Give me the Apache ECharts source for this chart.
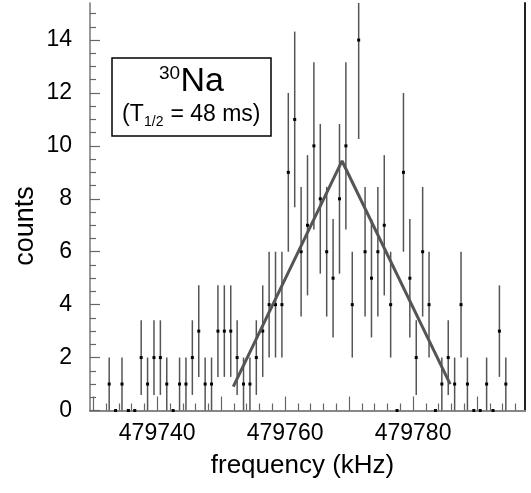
<!DOCTYPE html>
<html>
<head>
<meta charset="utf-8">
<script src="https://cdn.jsdelivr.net/npm/echarts@6/dist/echarts.min.js"></script>
<style>
html,body{margin:0;padding:0;background:#fff}
#main{width:531px;height:493px}
</style>
</head>
<body>
<div id="main"></div>
<script>
// scan points (kHz) and counts per point
var freq = [479732.5, 479733.5, 479734.5, 479735.5, 479736.5, 479737.5, 479738.5, 479739.5,
    479740.5, 479741.5, 479742.5, 479743.5, 479744.5, 479745.5, 479746.5, 479747.5,
    479748.5, 479749.5, 479750.5, 479751.5, 479752.5, 479753.5, 479754.5, 479755.5,
    479756.5, 479757.5, 479758.5, 479759.5, 479760.5, 479761.5, 479762.5, 479763.5,
    479764.5, 479765.5, 479766.5, 479767.5, 479768.5, 479769.5, 479770.5, 479771.5,
    479772.5, 479773.5, 479774.5, 479775.5, 479776.5, 479777.5, 479778.5, 479779.5,
    479780.5, 479781.5, 479782.5, 479783.5, 479784.5, 479785.5, 479786.5, 479787.5,
    479788.5, 479789.5, 479790.5, 479791.5, 479792.5, 479793.5, 479794.5];
var counts = [1, 0, 1, 0, 0, 2, 1, 2,
    2, 1, 0, 1, 1, 2, 3, 1,
    1, 3, 3, 3, 2, 1, 1, 2,
    3, 4, 4, 4, 9, 11, 6, 7,
    10, 8, 6, 5, 8, 10, 4, 14,
    6, 5, 6, 7, 4, 0, 9, 5,
    2, 6, 4, 0, 1, 2, 1, 4,
    1, 0, 0, 1, 0, 3, 1];
// error bar half lengths
var errs = [1, 0, 1, 0, 0, 1.41, 1, 1.41,
    1.41, 1, 0, 1, 1, 1.41, 1.73, 1,
    1, 1.73, 1.73, 1.73, 1.41, 1, 1, 1.41,
    1.73, 2, 2, 2, 3, 3.32, 2.45, 2.65,
    3.16, 2.83, 2.45, 2.24, 2.83, 3.16, 2, 3.74,
    2.45, 2.24, 2.45, 2.65, 2, 0, 3, 2.24,
    1.41, 2.45, 2, 0, 1, 1.41, 1, 2,
    1, 0, 0, 1, 0, 1.73, 1];
// triangular fit
var fitFreq = [479751.9, 479768.9, 479785.8];
var fitCounts = [0.9, 9.43, 1.0];

var xLabelValues = [479740, 479760, 479780];
var xMajorTicks = [479730, 479740, 479750, 479760, 479770, 479780, 479790];
var xMinorTicks = [479732, 479734, 479736, 479738, 479742, 479744, 479746, 479748,
    479752, 479754, 479756, 479758, 479762, 479764, 479766, 479768,
    479772, 479774, 479776, 479778, 479782, 479784, 479786, 479788,
    479792, 479794, 479796];
var yLabelValues = [0, 2, 4, 6, 8, 10, 12, 14];
var yMinorTicks = [0.5, 1, 1.5, 2.5, 3, 3.5, 4.5, 5, 5.5, 6.5, 7, 7.5, 8.5, 9, 9.5,
    10.5, 11, 11.5, 12.5, 13, 13.5, 14.5, 15];

var X_MIN = 479729.5, X_MAX = 479797.5, Y_MAX = 15.4;
var FONT = 'Liberation Sans, Arial, sans-serif';

var chart = echarts.init(document.getElementById('main'));

var points = freq.map(function (f, i) {
    return [f, counts[i], errs[i]];
});
var fit = fitFreq.map(function (f, i) {
    return [f, fitCounts[i]];
});

var option = {
    animation: false,
    grid: {left: 90, right: 6, top: 3, bottom: 82.5},
    xAxis: [{
        type: 'value', position: 'bottom', min: X_MIN, max: X_MAX,
        name: 'frequency (kHz)', nameLocation: 'middle', nameGap: 42,
        nameTextStyle: {fontFamily: FONT, fontSize: 26, color: '#000', padding: [0, 0, 0, -10]},
        axisLine: {lineStyle: {color: '#444', width: 1.5}},
        axisTick: {inside: true, length: 14, customValues: xMajorTicks, lineStyle: {color: '#666', width: 1.2}},
        axisLabel: {
            customValues: xLabelValues, margin: 12, fontFamily: FONT, fontSize: 23, color: '#000',
            formatter: function (v) { return String(v); }
        },
        splitLine: {show: false}
    }, {
        type: 'value', position: 'bottom', min: X_MIN, max: X_MAX,
        axisLine: {show: false},
        axisTick: {inside: true, length: 7, customValues: xMinorTicks, lineStyle: {color: '#666', width: 1.2}},
        axisLabel: {show: false},
        splitLine: {show: false}
    }, {
        type: 'value', position: 'top', min: X_MIN, max: X_MAX,
        axisLine: {lineStyle: {color: '#888', width: 2}},
        axisTick: {show: false}, axisLabel: {show: false}, splitLine: {show: false}
    }],
    yAxis: [{
        type: 'value', position: 'left', min: 0, max: Y_MAX,
        axisLine: {show: true, lineStyle: {color: '#777', width: 1.5}},
        axisTick: {show: true, inside: true, length: 10, customValues: yLabelValues, lineStyle: {color: '#666', width: 1.2}},
        axisLabel: {customValues: yLabelValues, margin: 18, fontFamily: FONT, fontSize: 23, color: '#000'},
        splitLine: {show: false}
    }, {
        type: 'value', position: 'left', min: 0, max: Y_MAX,
        axisLine: {show: false},
        axisTick: {show: true, inside: true, length: 6, customValues: yMinorTicks, lineStyle: {color: '#666', width: 1.2}},
        axisLabel: {show: false},
        splitLine: {show: false}
    }, {
        type: 'value', position: 'right', min: 0, max: Y_MAX,
        axisLine: {show: true, lineStyle: {color: '#222', width: 2}},
        axisTick: {show: false}, axisLabel: {show: false}, splitLine: {show: false}
    }],
    series: [{
        type: 'custom',
        xAxisIndex: 0, yAxisIndex: 0,
        data: points,
        encode: {x: 0, y: 1},
        z: 3,
        renderItem: function (params, api) {
            var x = api.value(0), y = api.value(1), e = api.value(2);
            var p = api.coord([x, y]);
            var kids = [];
            if (e > 0) {
                var top = api.coord([x, Math.min(y + e, Y_MAX)]);
                var bot = api.coord([x, Math.max(y - e, 0)]);
                kids.push({
                    type: 'line',
                    shape: {x1: p[0], y1: top[1], x2: p[0], y2: bot[1]},
                    style: {stroke: '#555', lineWidth: 1.5}
                });
            }
            kids.push({
                type: 'rect',
                shape: {x: p[0] - 1.5, y: p[1] - 1.5, width: 3, height: 3},
                style: {fill: '#000'}
            });
            return {type: 'group', children: kids};
        }
    }, {
        type: 'line',
        xAxisIndex: 0, yAxisIndex: 0,
        data: fit,
        showSymbol: false,
        z: 4,
        lineStyle: {color: '#555', width: 3}
    }],
    graphic: [{
        type: 'text', x: 26, y: 226, rotation: Math.PI / 2,
        style: {text: 'counts', fontFamily: FONT, fontSize: 27, fill: '#000', align: 'center', verticalAlign: 'middle'}
    }, {
        type: 'rect', shape: {x: 112, y: 58, width: 159, height: 78},
        style: {fill: '#fff', stroke: '#000', lineWidth: 1.5}, z: 10
    }, {
        type: 'text', x: 159, y: 74, z: 11,
        style: {text: '30', fontFamily: FONT, fontSize: 19, fill: '#000', align: 'left', verticalAlign: 'middle'}
    }, {
        type: 'text', x: 180.5, y: 81.5, z: 11,
        style: {text: 'Na', fontFamily: FONT, fontSize: 34, fill: '#000', align: 'left', verticalAlign: 'middle'}
    }, {
        type: 'text', x: 122, y: 115, z: 11,
        style: {text: '(T', fontFamily: FONT, fontSize: 23, fill: '#000', align: 'left', verticalAlign: 'middle'}
    }, {
        type: 'text', x: 144, y: 122, z: 11,
        style: {text: '1/2', fontFamily: FONT, fontSize: 14, fill: '#000', align: 'left', verticalAlign: 'middle'}
    }, {
        type: 'text', x: 164, y: 115, z: 11,
        style: {text: ' = 48 ms)', fontFamily: FONT, fontSize: 23, fill: '#000', align: 'left', verticalAlign: 'middle'}
    }]
};
chart.setOption(option);
</script>
</body>
</html>
